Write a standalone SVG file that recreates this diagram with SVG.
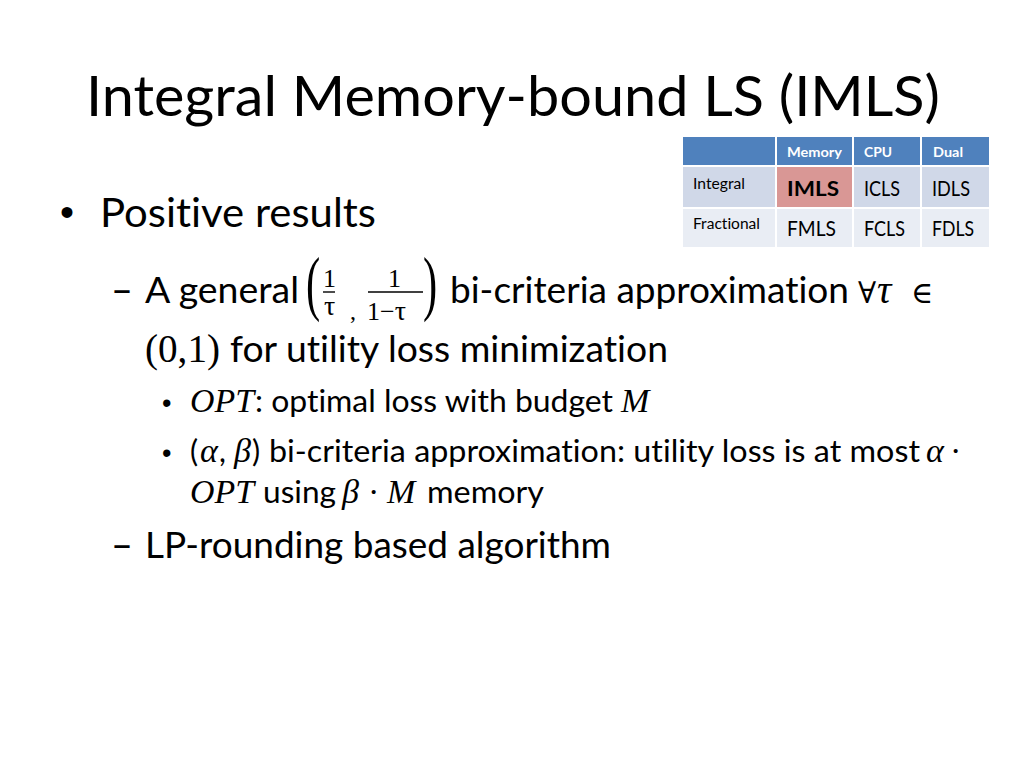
<svg xmlns="http://www.w3.org/2000/svg" width="1024" height="768" viewBox="0 0 1024 768">
<style>
  text { font-variant-ligatures: none; font-feature-settings: "liga" 0, "clig" 0, "dlig" 0, "calt" 0; }
  .t { font-family: Lato, "Open Sans", "Liberation Sans", sans-serif; fill: #000; }
  .m { font-family: "Liberation Serif", "DejaVu Serif", serif; fill: #000; }
  .mi { font-family: "Liberation Serif", "DejaVu Serif", serif; font-style: italic; fill: #000; }
  .sym { font-family: "DejaVu Serif", "Liberation Serif", serif; fill: #000; }
  .bul { font-family: "Liberation Sans", Arial, sans-serif; fill: #000; }
  .hd { font-family: Lato, "Liberation Sans", sans-serif; font-weight: bold; font-size: 14px; fill: #fff; }
  .rl { font-family: Lato, "Liberation Sans", sans-serif; font-size: 14.5px; fill: #000; }
  .cl { font-family: Lato, "Liberation Sans", sans-serif; font-size: 21px; fill: #000; }
  .bar { stroke: #000; stroke-width: 1.4; }
</style>
<rect x="0" y="0" width="1024" height="768" fill="#fff"/>

<g id="title">
  <text class="t" x="86" y="116" font-size="56" textLength="854" lengthAdjust="spacingAndGlyphs">Integral Memory-bound LS (IMLS)</text>
</g>

<g id="table">
  <rect x="683" y="137" width="92" height="28" fill="#4F81BD"/>
  <rect x="777" y="137" width="75" height="28" fill="#4F81BD"/>
  <rect x="854" y="137" width="66" height="28" fill="#4F81BD"/>
  <rect x="922" y="137" width="67" height="28" fill="#4F81BD"/>
  <rect x="683" y="167" width="92" height="40" fill="#D0D8E8"/>
  <rect x="777" y="167" width="75" height="40" fill="#D99795"/>
  <rect x="854" y="167" width="66" height="40" fill="#D0D8E8"/>
  <rect x="922" y="167" width="67" height="40" fill="#D0D8E8"/>
  <rect x="683" y="209" width="92" height="38" fill="#E9EDF4"/>
  <rect x="777" y="209" width="75" height="38" fill="#E9EDF4"/>
  <rect x="854" y="209" width="66" height="38" fill="#E9EDF4"/>
  <rect x="922" y="209" width="67" height="38" fill="#E9EDF4"/>
  <text class="hd" x="787" y="157" textLength="55" lengthAdjust="spacingAndGlyphs">Memory</text>
  <text class="hd" x="864" y="157" textLength="28" lengthAdjust="spacingAndGlyphs">CPU</text>
  <text class="hd" x="933" y="157" textLength="30" lengthAdjust="spacingAndGlyphs">Dual</text>
  <text class="rl" x="693" y="189" textLength="52" lengthAdjust="spacingAndGlyphs">Integral</text>
  <text class="cl" x="787" y="196" font-weight="bold" textLength="52" lengthAdjust="spacingAndGlyphs">IMLS</text>
  <text class="cl" x="864" y="196" textLength="36" lengthAdjust="spacingAndGlyphs">ICLS</text>
  <text class="cl" x="932" y="196" textLength="38" lengthAdjust="spacingAndGlyphs">IDLS</text>
  <text class="rl" x="693" y="229" textLength="67" lengthAdjust="spacingAndGlyphs">Fractional</text>
  <text class="cl" x="787" y="236" textLength="49" lengthAdjust="spacingAndGlyphs">FMLS</text>
  <text class="cl" x="864" y="236" textLength="41" lengthAdjust="spacingAndGlyphs">FCLS</text>
  <text class="cl" x="932" y="236" textLength="42" lengthAdjust="spacingAndGlyphs">FDLS</text>
</g>

<g id="bullet1">
  <text class="bul" x="60" y="226" font-size="40">•</text>
  <text class="t" x="100" y="227" font-size="40.5" textLength="276" lengthAdjust="spacingAndGlyphs">Positive results</text>
</g>

<g id="bullet2">
  <text class="t" x="111" y="304" font-size="40" textLength="22" lengthAdjust="spacingAndGlyphs">–</text>
  <text class="t" x="145" y="303" font-size="36" textLength="154" lengthAdjust="spacingAndGlyphs">A general</text>
  <text class="m" font-size="71" transform="translate(306,307) scale(0.6,1)">(</text>
  <text class="m" x="323" y="287" font-size="26">1</text>
  <line class="bar" x1="323" y1="292" x2="335" y2="292"/>
  <text class="m" x="324" y="315" font-size="28">τ</text>
  <text class="m" x="350" y="319" font-size="24">,</text>
  <text class="m" x="388" y="287" font-size="26">1</text>
  <line class="bar" x1="368" y1="292" x2="423" y2="292"/>
  <text class="m" x="367" y="320" font-size="26">1<tspan>−</tspan><tspan font-size="28">τ</tspan></text>
  <text class="m" font-size="71" transform="translate(423,307) scale(0.6,1)">)</text>
  <text class="t" x="450" y="303" font-size="36" textLength="399" lengthAdjust="spacingAndGlyphs">bi-criteria approximation</text>
  <text class="sym" x="858" y="303" font-size="30">∀</text>
  <text class="mi" x="877" y="303" font-size="40">τ</text>
  <text class="sym" x="911" y="303" font-size="30">∈</text>
  <text class="m" x="145" y="362" font-size="40" textLength="75" lengthAdjust="spacingAndGlyphs">(0,1)</text>
  <text class="t" x="230" y="362" font-size="36" textLength="438" lengthAdjust="spacingAndGlyphs">for utility loss minimization</text>
</g>

<g id="sub1">
  <text class="bul" x="162" y="412" font-size="27">•</text>
  <text class="mi" x="190" y="412" font-size="34" textLength="64" lengthAdjust="spacingAndGlyphs">OPT</text>
  <text class="t" x="255" y="412" font-size="30.5" textLength="358" lengthAdjust="spacingAndGlyphs">: optimal loss with budget</text>
  <text class="mi" x="621" y="412" font-size="34">M</text>
</g>

<g id="sub2">
  <text class="bul" x="162" y="462" font-size="27">•</text>
  <text class="t" x="190" y="462" font-size="30.5">(</text>
  <text class="mi" x="200" y="462" font-size="34">α</text>
  <text class="t" x="219" y="462" font-size="30.5">,</text>
  <text class="mi" x="234" y="462" font-size="34">β</text>
  <text class="t" x="252" y="462" font-size="30.5">)</text>
  <text class="t" x="269" y="462" font-size="30.5" textLength="651" lengthAdjust="spacingAndGlyphs">bi-criteria approximation: utility loss is at most</text>
  <text class="mi" x="926" y="462" font-size="34">α</text>
  <text class="m" x="950" y="462" font-size="34">·</text>
  <text class="mi" x="190" y="503" font-size="34" textLength="64" lengthAdjust="spacingAndGlyphs">OPT</text>
  <text class="t" x="263" y="503" font-size="30.5" textLength="73" lengthAdjust="spacingAndGlyphs">using</text>
  <text class="mi" x="342" y="503" font-size="34">β</text>
  <text class="m" x="368" y="503" font-size="34">·</text>
  <text class="mi" x="387" y="503" font-size="34">M</text>
  <text class="t" x="427" y="503" font-size="30.5" textLength="117" lengthAdjust="spacingAndGlyphs">memory</text>
</g>

<g id="bullet3">
  <text class="t" x="111" y="559" font-size="40" textLength="22" lengthAdjust="spacingAndGlyphs">–</text>
  <text class="t" x="145" y="558" font-size="36" textLength="466" lengthAdjust="spacingAndGlyphs">LP-rounding based algorithm</text>
</g>
</svg>
